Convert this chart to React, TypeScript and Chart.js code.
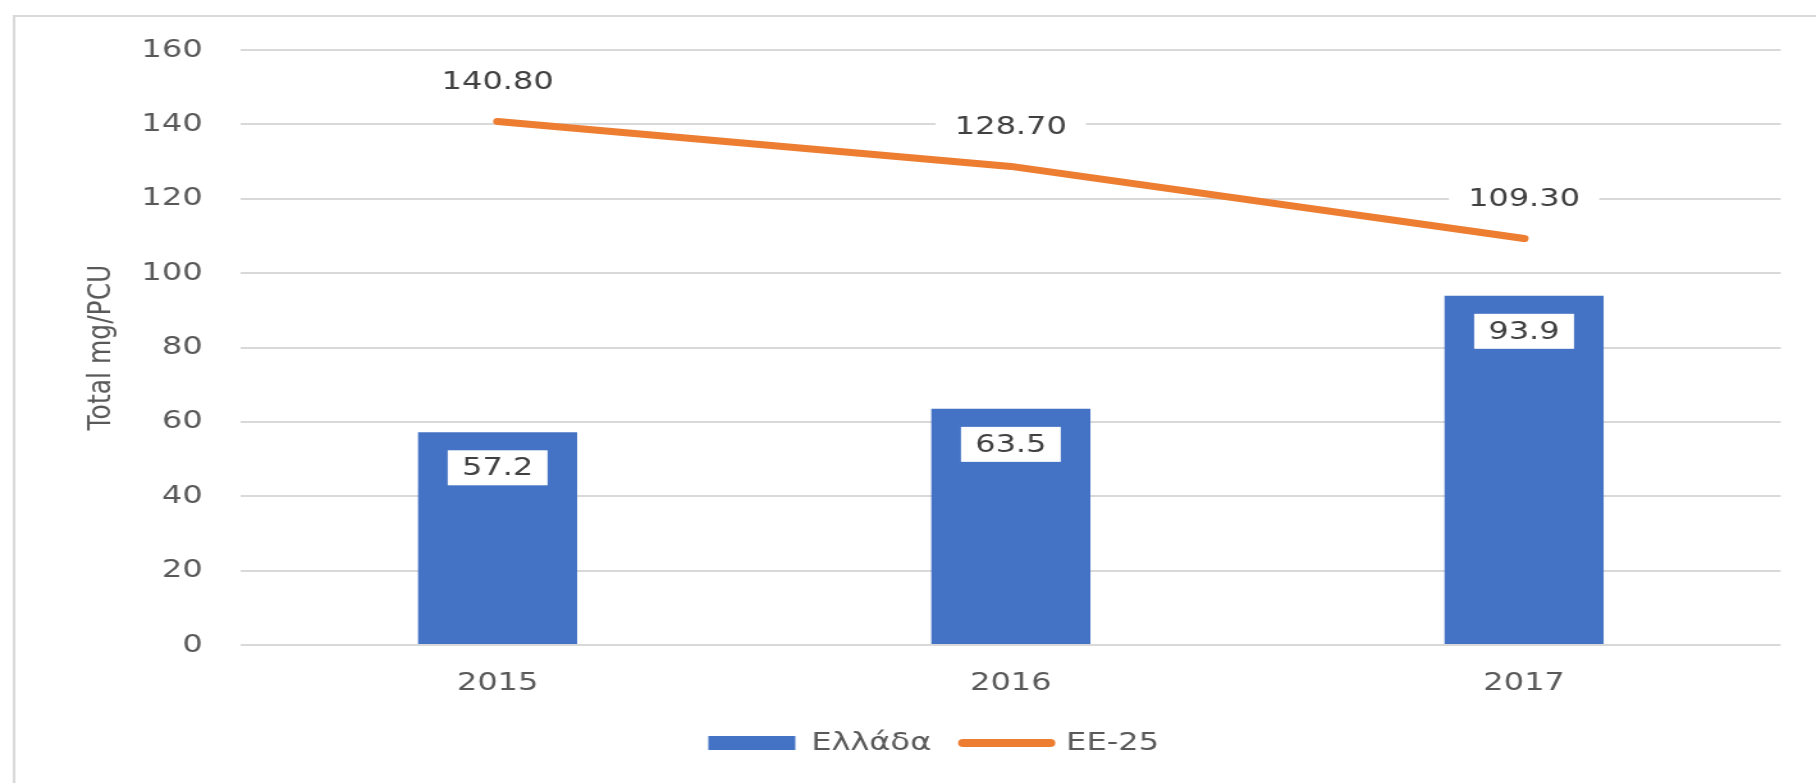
import React, { useEffect, useRef } from 'react';
import { Chart, registerables } from 'chart.js';

Chart.register(...registerables);

const categories = ['2015', '2016', '2017'];
const greeceValues = [57.2, 63.5, 93.9];
const eu25Values = [140.8, 128.7, 109.3];
const seriesNames = ['Ελλάδα', 'ΕΕ-25'];
const yAxisTitle = 'Total mg/PCU';
const yMin = 0;
const yMax = 160;
const yStep = 20;

const FONT = 'DejaVu Sans';
const TEXT = '#595959';
const LABEL_TEXT = '#404040';
const BLUE = '#4472C4';
const ORANGE = '#ED7D31';
const GRID = '#D9D9D9';

const CANVAS_W = 1419;
const CANVAS_H = 783;
const SX = 1816 / CANVAS_W;

const frameBorder = {
  id: 'frameBorder',
  beforeDraw(chart: any) {
    const ctx = chart.ctx;
    ctx.save();
    ctx.fillStyle = '#ffffff';
    ctx.fillRect(0, 0, chart.width, chart.height);
    ctx.strokeStyle = GRID;
    ctx.lineWidth = 2;
    ctx.beginPath();
    ctx.moveTo(chart.width + 5, 16);
    ctx.lineTo(11, 16);
    ctx.lineTo(11, chart.height + 5);
    ctx.stroke();
    ctx.restore();
  },
};

const valueLabels = {
  id: 'valueLabels',
  afterDatasetsDraw(chart: any) {
    const ctx = chart.ctx;
    ctx.save();
    ctx.font = `25px "${FONT}"`;
    ctx.textAlign = 'center';
    ctx.textBaseline = 'middle';
    const barMeta = chart.getDatasetMeta(0);
    barMeta.data.forEach((el: any, i: number) => {
      const w = 78;
      const h = 35;
      const top = el.y + 18;
      ctx.fillStyle = '#ffffff';
      ctx.fillRect(el.x - w / 2, top, w, h);
      ctx.fillStyle = LABEL_TEXT;
      ctx.fillText(greeceValues[i].toFixed(1), el.x, top + h / 2 + 1);
    });
    const lineMeta = chart.getDatasetMeta(1);
    lineMeta.data.forEach((el: any, i: number) => {
      const txt = eu25Values[i].toFixed(2);
      const tw = ctx.measureText(txt).width;
      const cy = el.y - 40;
      ctx.fillStyle = '#ffffff';
      ctx.fillRect(el.x - tw / 2 - 15, cy - 18, tw + 30, 36);
      ctx.fillStyle = LABEL_TEXT;
      ctx.fillText(txt, el.x, cy + 1);
    });
    ctx.restore();
  },
};

export default function App() {
  const ref = useRef<HTMLCanvasElement>(null);

  useEffect(() => {
    if (!ref.current) return;
    const font = { family: FONT, size: 25 };
    const chart = new Chart(ref.current, {
      type: 'bar',
      data: {
        labels: categories,
        datasets: [
          {
            type: 'bar',
            label: seriesNames[0],
            data: greeceValues,
            backgroundColor: BLUE,
            borderWidth: 0,
            barPercentage: 0.31,
            categoryPercentage: 1,
          },
          {
            type: 'line',
            label: seriesNames[1],
            data: eu25Values,
            borderColor: ORANGE,
            backgroundColor: ORANGE,
            borderWidth: 7,
            borderCapStyle: 'round',
            borderJoinStyle: 'round',
            pointRadius: 0,
            tension: 0,
          },
        ],
      } as any,
      options: {
        responsive: false,
        animation: false,
        devicePixelRatio: 1,
        layout: { padding: { left: 67.6, right: 27.6, top: 50, bottom: 17.5 } },
        plugins: {
          tooltip: { enabled: false },
          legend: {
            position: 'bottom',
            labels: {
              usePointStyle: true,
              pointStyleWidth: 68,
              boxHeight: 14,
              padding: 25,
              color: TEXT,
              font,
              generateLabels: (c: any) => {
                const items = (Chart.defaults.plugins.legend.labels as any).generateLabels(c);
                items[0].pointStyle = 'rect';
                items[0].lineWidth = 0;
                items[1].pointStyle = 'line';
                items[1].lineWidth = 8;
                items[1].lineCap = 'round';
                return items;
              },
            },
          },
        },
        scales: {
          x: {
            grid: { display: false, drawTicks: false },
            border: { display: false },
            ticks: { color: TEXT, font, padding: 23 },
            afterFit: (s: any) => {
              s.height = 60.5;
            },
          },
          y: {
            min: yMin,
            max: yMax,
            ticks: { stepSize: yStep, color: TEXT, font, padding: 30 },
            grid: { color: GRID, lineWidth: 2, drawTicks: false },
            border: { display: false },
            title: {
              display: true,
              text: yAxisTitle,
              color: TEXT,
              font,
              padding: { top: -3.6, bottom: 0 },
            },
            afterFit: (s: any) => {
              s.width = 120.7;
            },
          },
        },
      } as any,
      plugins: [frameBorder, valueLabels],
    });
    return () => chart.destroy();
  }, []);

  return (
    <div
      style={{
        position: 'fixed',
        left: 0,
        top: 0,
        width: 1816,
        height: 783,
        overflow: 'hidden',
        background: '#fff',
      }}
    >
      <canvas
        ref={ref}
        width={CANVAS_W}
        height={CANVAS_H}
        style={{
          display: 'block',
          transform: `scaleX(${SX})`,
          transformOrigin: '0 0',
        }}
      />
    </div>
  );
}
